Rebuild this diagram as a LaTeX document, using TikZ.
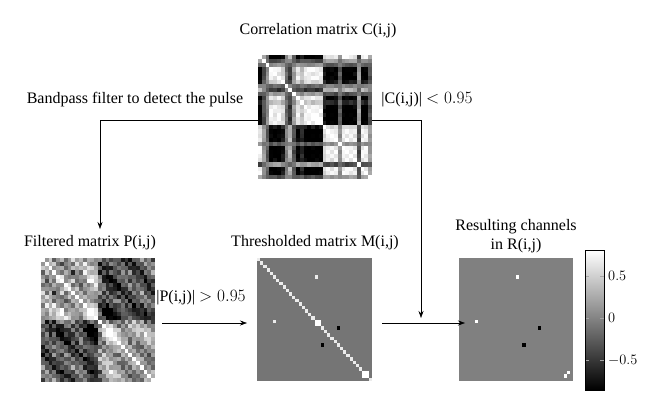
\documentclass[tikz,border=0pt]{standalone}
\usepackage[no-math]{fontspec}
\setmainfont{Liberation Serif}
\usetikzlibrary{arrows.meta}
\definecolor{diagc}{gray}{0.92}
\definecolor{mgray}{gray}{0.46}
\definecolor{rgray}{gray}{0.5}
\begin{document}
\begin{tikzpicture}[x=1pt,y=-1pt,
  lbl/.style={inner sep=0pt, font=\fontsize{16}{19}\selectfont},
  arr/.style={-{Stealth[length=7pt,width=5pt]}, line width=0.6pt},
  matbox/.style={inner sep=0pt, outer sep=0pt, anchor=north west, minimum width=114pt, minimum height=124pt}]
\useasboundingbox (0,0) rectangle (660,407);

% ---------- Correlation matrix C ----------
\node[matbox] (C) at (258,55) {};
\def\sC{{0.95,0.3,-0.2,-0.95,-0.9,-0.95,-0.75,0.1,0.5,-0.3,-0.9,-0.6,-0.95,-0.97,-0.95,-0.97,-0.95,0.75,0.95,0.9,0.95,0.2,0.95,0.97,0.95,0.9,-0.35,0.95,0.95,0.3}}
\foreach \i in {0,...,29}{\foreach \j in {0,...,29}{
  \pgfmathsetmacro\vv{\i==\j ? 1 : \sC[\i]*\sC[\j]+0.1*sin(\i*\j*7+(\i+\j)*53)}
  \pgfmathsetmacro\pv{max(0,min(100,(\vv+0.85)*54))}
  \fill[white!\pv!black] ({258+\j*3.8},{55+\i*4.1333}) rectangle ++(4.1,4.43);
}}

% ---------- Filtered matrix P ----------
\node[matbox] (P) at (41,258) {};
\def\aP{{0.5,0.4,0.6,0.3,0.5,0.7,0.4,0.6,0.5,0.5,0.3,0.6,0.85,0.9,0.8,-0.2,-0.6,-0.85,-0.85,-0.7,-0.6,-0.4,-0.5,-0.4,-0.5,-0.4,-0.3,-0.5,-0.4,-0.5}}
\def\bP{{0.5,-0.6,0.3,-0.7,0.2,0.6,-0.5,-0.3,0.7,-0.4,0.5,-0.6,0.3,0.2,-0.4,0.6,-0.5,0.3,-0.4,0.2,0.6,-0.3,0.5,-0.6,0.4,-0.2,0.5,-0.5,0.3,-0.4}}
\foreach \i in {0,...,29}{\foreach \j in {0,...,29}{
  \pgfmathsetmacro\vv{\i==\j ? 1 : \aP[\i]*\aP[\j]+0.8*\bP[\i]*\bP[\j]+0.25*cos((\i-\j)*41)+0.1*sin(\i*\j*11+(\i+\j)*29)}
  \pgfmathsetmacro\pv{max(0,min(100,(\vv+0.75)*62))}
  \fill[white!\pv!black] ({41+\j*3.8},{258+\i*4.1333}) rectangle ++(4.1,4.43);
}}

% ---------- Thresholded matrix M ----------
\node[matbox, minimum width=115pt, minimum height=123pt] (M) at (257,258) {};
\fill[mgray] (M.north west) rectangle (M.south east);
\newcommand\mcell[3]{\fill[#3] ({257+#1*3.1944},{258+#2*3.4167}) rectangle ++(3.1944,3.4167);}
\foreach \k in {0,...,35}{\mcell{\k}{\k}{diagc}}
\mcell{18}{5}{diagc}\mcell{5}{18}{diagc}
\mcell{18}{18}{white}\mcell{19}{18}{white}\mcell{18}{19}{white}\mcell{19}{19}{white}
\mcell{33}{33}{white}\mcell{34}{33}{white}\mcell{33}{34}{white}\mcell{34}{34}{white}
\mcell{25}{20}{black}\mcell{20}{25}{black}

% ---------- Resulting matrix R ----------
\node[matbox, minimum width=114pt, minimum height=123pt] (R) at (459,258) {};
\fill[rgray] (R.north west) rectangle (R.south east);
\newcommand\rcell[3]{\fill[#3] ({459+#1*3.1667},{258+#2*3.4167}) rectangle ++(3.1667,3.4167);}
\rcell{18}{5}{white}\rcell{5}{18}{white}
\rcell{25}{20}{black}\rcell{20}{25}{black}
\rcell{34}{33}{white}\rcell{33}{34}{white}

% ---------- Colorbar ----------
\node[inner sep=0pt, outer sep=0pt, anchor=north west, minimum width=19pt, minimum height=140pt] (CB) at (585,250) {};
\shade[bottom color=black, top color=white] (CB.north west) rectangle (CB.south east);
\foreach \t/\lab in {0.5/{$0.5$}, 0/{$0$}, -0.5/{$-0.5$}}{
  \draw[gray!70, line width=0.6pt] ({585},{318-84*\t}) -- ++(4,0);
  \draw[gray!70, line width=0.6pt] ({604},{318-84*\t}) -- ++(-4,0);
  \node[anchor=west, inner sep=0pt, font=\fontsize{15}{18}\selectfont] at (608,{318-84*\t}) {\lab};
}
\draw[line width=0.8pt] (CB.north west) rectangle (CB.south east);

% ---------- Labels ----------
\node[lbl] (tC) at (318,31) {Correlation matrix C(i,j)};
\node[lbl] (tBP) at (135,100) {Bandpass filter to detect the pulse};
\node[lbl] (tCth) at (427,100) {|C(i,j)| $<0.95$};
\node[lbl] (tP) at (90,243) {Filtered matrix P(i,j)};
\node[lbl] (tM) at (315,243) {Thresholded matrix M(i,j)};
\node[lbl, align=center] (tR) at (516,236) {Resulting channels\\in R(i,j)};
\node[lbl] (tPth) at (201,298) {|P(i,j)| $>0.95$};

% ---------- Connectors ----------
\coordinate (bpL) at (100,120);
\coordinate (bpT) at (100,229);
\coordinate (cR) at (421,120);
\coordinate (cT) at (421,318);
\coordinate (pS) at (162,323);
\coordinate (pE) at (247,323);
\coordinate (mS) at (382,323);
\coordinate (mE) at (465,323);
\draw[arr] (C.west |- bpL) -- (bpL) -- (bpT);
\draw[arr] (C.east |- cR) -- (cR) -- (cT);
\draw[arr] (pS) -- (pE);
\draw[arr] (mS) -- (mE);
\end{tikzpicture}
\end{document}
